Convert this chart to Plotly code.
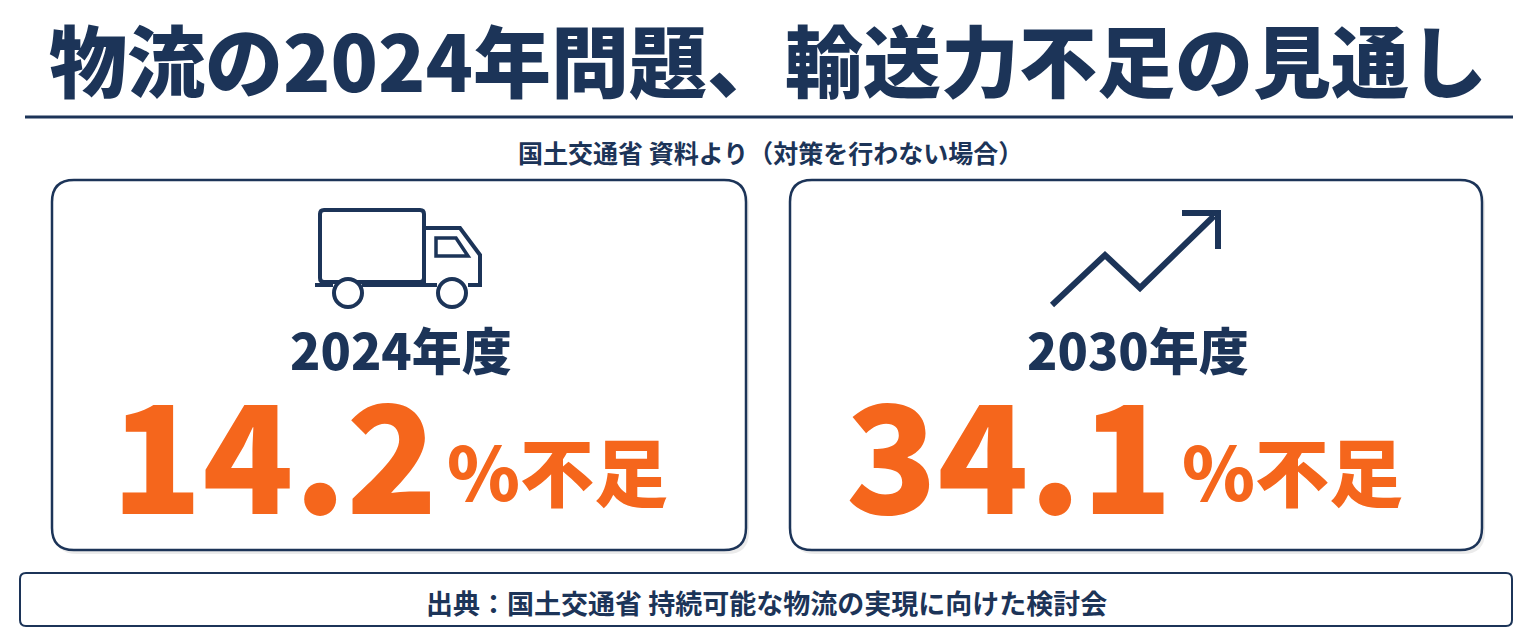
import plotly.graph_objects as go

years = ["2024年度", "2030年度"]
shortage = [14.2, 34.1]
title = "物流の2024年問題、輸送力不足の見通し"
subtitle = "国土交通省 資料より（対策を行わない場合）"
source = "出典：国土交通省 持続可能な物流の実現に向けた検討会"

NAVY = "#1c3458"
ORANGE = "#f5661c"
F = "Noto Sans CJK JP"

fig = go.Figure()
shapes = []
ann = []

def rrect(x0, y0, x1, y1, r, **kw):
    p = (f"M{x0+r},{y0} L{x1-r},{y0} Q{x1},{y0} {x1},{y0+r} L{x1},{y1-r} Q{x1},{y1} {x1-r},{y1} "
         f"L{x0+r},{y1} Q{x0},{y1} {x0},{y1-r} L{x0},{y0+r} Q{x0},{y0} {x0+r},{y0} Z")
    return dict(type="path", path=p, xref="x", yref="y", **kw)

ann.append(dict(x=768, y=58, text=title, showarrow=False, font=dict(family=F, size=78, color=NAVY, weight=900)))
shapes.append(dict(type="line", x0=25, x1=1513, y0=117, y1=117, line=dict(color=NAVY, width=3)))
ann.append(dict(x=770, y=152, text=subtitle, showarrow=False, font=dict(family=F, size=25, color=NAVY, weight=600)))

cards = [(52, 746), (790, 1482)]
num_right = [440, 1175]
for i, (x0, x1) in enumerate(cards):
    shapes.append(rrect(x0 + 3, 183, x1 + 3, 554, 22, fillcolor="rgba(0,0,0,0.08)", line=dict(width=0)))
    shapes.append(rrect(x0, 180, x1, 550, 22, fillcolor="white", line=dict(color=NAVY, width=2.5)))
    cx = (x0 + x1) / 2
    ann.append(dict(x=cx + 2, y=348, text=years[i], showarrow=False, font=dict(family=F, size=50, color=NAVY, weight=800)))
    ann.append(dict(x=num_right[i], y=448, text=f"{shortage[i]:.1f}", showarrow=False, xanchor="right",
                    font=dict(family=F, size=150, color=ORANGE, weight=900)))
    ann.append(dict(x=num_right[i] + 5, y=468, text="%不足", showarrow=False, xanchor="left",
                    font=dict(family=F, size=74, color=ORANGE, weight=900)))

# truck icon
tl = dict(color=NAVY, width=4)
shapes.append(rrect(320, 210, 424, 282, 4, line=tl))
shapes.append(dict(type="path", path="M424,228 L460,228 L480,255 L480,285 L468,285 M424,228 L424,285 L437,285 M315,285 L333,285 M362,285 L437,285", line=tl))
shapes.append(dict(type="path", path="M436,238 L456,238 L468,256 L436,256 Z", line=dict(color=NAVY, width=3.5)))
for wx in (348, 452):
    shapes.append(dict(type="circle", x0=wx - 14, x1=wx + 14, y0=279, y1=307, line=tl, fillcolor="white"))
# arrow icon
al = dict(color=NAVY, width=6)
shapes.append(dict(type="path", path="M1052,305 L1105,255 L1140,288 L1214,216", line=al))
shapes.append(dict(type="path", path="M1182,213 L1218,213 L1218,249", line=al))

# source box
shapes.append(rrect(20, 573, 1512, 626, 6, fillcolor="white", line=dict(color=NAVY, width=2)))
ann.append(dict(x=766, y=602, text=source, showarrow=False, font=dict(family=F, size=27, color=NAVY, weight=700)))

for a in ann:
    a.setdefault("xref", "x"); a.setdefault("yref", "y")
fig.update_layout(width=1536, height=640, margin=dict(l=0, r=0, t=0, b=0),
                  paper_bgcolor="white", plot_bgcolor="white", shapes=shapes, annotations=ann,
                  xaxis=dict(range=[8, 1544], visible=False, fixedrange=True),
                  yaxis=dict(range=[648, 8], visible=False, fixedrange=True), showlegend=False)
fig.write_html("out.html")
